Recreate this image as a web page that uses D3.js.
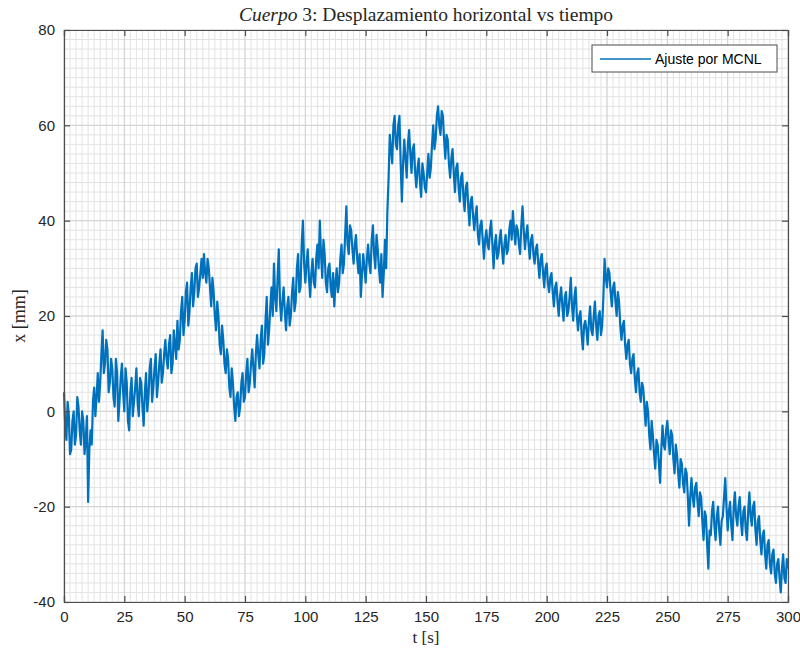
<!DOCTYPE html>
<html>
<head>
<meta charset="utf-8">
<script src="https://cdn.jsdelivr.net/npm/d3@7/dist/d3.min.js"></script>
<style>
  html, body { margin: 0; padding: 0; background: #fff; }
  svg { display: block; }
</style>
</head>
<body>
<svg id="chart" width="800" height="649"></svg>
<script>
// ---- data ----
// samples at whole seconds t = 0..300
const xValues = [
  4, -6, -1, -8, 0, -5, 1, -7, -2, -6,
  -19, -4, 2, -1, 8, 6, 17, 10, 13, 6,
  9, 1, 8, 2, 10, 0, 6, -4, 7, 2,
  9, -1, 6, -3, 8, 3, 11, 5, 12, 6,
  13, 8, 15, 9, 16, 10, 14, 19, 15, 24,
  19, 27, 21, 29, 25, 31, 26, 32, 33, 27,
  30, 22, 25, 17, 20, 12, 15, 8, 11, 3,
  6, -2, 4, 1, 8, 3, 11, 6, 13, 5,
  16, 9, 18, 12, 24, 17, 26, 31, 21, 34,
  19, 26, 17, 24, 20, 28, 23, 33, 26, 40,
  27, 34, 24, 32, 26, 35, 40, 28, 33, 25,
  31, 24, 22, 30, 27, 35, 31, 43, 33, 38,
  31, 37, 29, 24, 33, 27, 35, 29, 39, 30,
  34, 27, 24, 36, 42, 58, 52, 62, 55, 62,
  44, 57, 49, 59, 50, 56, 47, 53, 45, 50,
  46, 54, 51, 60, 57, 64, 58, 62, 53, 57,
  49, 55, 46, 52, 44, 50, 42, 48, 39, 45,
  38, 43, 35, 40, 32, 38, 34, 40, 30, 37,
  33, 38, 31, 37, 34, 40, 42, 35, 38, 33,
  43, 34, 39, 32, 37, 31, 35, 28, 33, 26,
  31, 25, 29, 22, 27, 20, 26, 19, 25, 21,
  28, 19, 26, 17, 21, 13, 19, 14, 22, 16,
  23, 15, 21, 18, 32, 26, 29, 22, 27, 20,
  23, 15, 19, 11, 15, 8, 12, 4, 9, 2,
  5, -3, 0, -8, -5, -12, -7, -15, -3, -8,
  -2, -9, -5, -13, -9, -16, -11, -17, -13, -24,
  -14, -20, -15, -22, -18, -27, -22, -33, -26, -19,
  -27, -20, -28, -22, -14, -25, -19, -27, -17, -24,
  -18, -26, -20, -27, -17, -24, -19, -28, -22, -30,
  -25, -33, -27, -34, -29, -36, -31, -38, -30, -36, -33
];
// samples at half seconds t = 0.5..299.5
const xMidValues = [
  -3, 2, -9, -2, -7, 3, -4, 0, -9, -1,
  -8, -7, 5, 3, 2, 12, 8, 15, 4, 11,
  3, 11, -2, 7, 4, 9, -2, 4, -1, 5,
  2, 7, 1, 4, 0, 9, 2, 9, 3, 10,
  6, 12, 11, 14, 8, 17, 11, 13, 21, 16,
  25, 18, 26, 22, 30, 24, 29, 28, 29, 32,
  26, 28, 20, 23, 14, 18, 10, 13, 5, 9,
  1, 3, -1, 6, 2, 8, 4, 10, 9, 12,
  12, 15, 10, 19, 14, 22, 20, 24, 28, 23,
  23, 21, 22, 18, 25, 21, 30, 25, 35, 31,
  31, 28, 29, 27, 32, 30, 33, 36, 27, 30,
  26, 29, 27, 25, 32, 29, 37, 35, 39, 34,
  35, 32, 33, 29, 30, 32, 31, 36, 33, 37,
  30, 33, 29, 30, 49, 55, 60, 56, 60, 52,
  52, 53, 56, 54, 55, 50, 51, 48, 52, 47,
  50, 49, 56, 55, 62, 60, 63, 57, 58, 52,
  53, 50, 51, 47, 49, 45, 47, 43, 44, 41,
  41, 37, 39, 36, 36, 35, 38, 35, 35, 32,
  36, 34, 35, 33, 38, 36, 38, 39, 35, 39,
  38, 37, 35, 36, 33, 34, 31, 32, 29, 30,
  27, 28, 25, 26, 23, 24, 22, 24, 20, 24,
  22, 24, 20, 20, 16, 18, 17, 19, 17, 20,
  18, 20, 16, 24, 28, 30, 25, 26, 23, 25,
  18, 18, 14, 14, 10, 11, 7, 8, 4, 6,
  1, 2, -5, -2, -9, -6, -11, -8, -7, -4,
  -6, -4, -10, -7, -13, -10, -15, -12, -18, -18,
  -18, -16, -19, -17, -23, -21, -28, -25, -21, -24,
  -22, -25, -23, -18, -20, -21, -24, -20, -22, -20,
  -23, -21, -25, -21, -22, -20, -25, -23, -27, -26,
  -30, -28, -32, -30, -34, -32, -35, -33, -35, -31
];
const xTicks = [0, 25, 50, 75, 100, 125, 150, 175, 200, 225, 250, 275, 300];
const yTicks = [-40, -20, 0, 20, 40, 60, 80];
const seriesName = "Ajuste por MCNL";

// ---- layout ----
const svg = d3.select("#chart");
const L = 64, R = 788, T = 30, B = 602;
const x = d3.scaleLinear().domain([0, 300]).range([L, R]);
const y = d3.scaleLinear().domain([-40, 80]).range([B, T]);
const axisColor = "#4d4d4d";
const textColor = "#262626";

// grid: minor
const g = svg.append("g");
g.selectAll("line.vx").data(d3.range(0, 300.01, 2.5)).join("line")
  .attr("x1", d => x(d)).attr("x2", d => x(d)).attr("y1", T).attr("y2", B)
  .attr("stroke", "#e3e3e3").attr("stroke-width", 1);
g.selectAll("line.hy").data(d3.range(-40, 80.01, 2)).join("line")
  .attr("y1", d => y(d)).attr("y2", d => y(d)).attr("x1", L).attr("x2", R)
  .attr("stroke", "#e3e3e3").attr("stroke-width", 1);
// grid: major
g.selectAll("line.mx").data(xTicks).join("line")
  .attr("x1", d => x(d)).attr("x2", d => x(d)).attr("y1", T).attr("y2", B)
  .attr("stroke", "#d2d2d2").attr("stroke-width", 1);
g.selectAll("line.my").data(yTicks).join("line")
  .attr("y1", d => y(d)).attr("y2", d => y(d)).attr("x1", L).attr("x2", R)
  .attr("stroke", "#d2d2d2").attr("stroke-width", 1);

// data line
const data = [];
for (let i = 0; i < xValues.length; i++) {
  data.push([i, xValues[i]]);
  if (i < xMidValues.length) data.push([i + 0.5, xMidValues[i]]);
}
svg.append("path")
  .datum(data)
  .attr("fill", "none")
  .attr("stroke", "#0072BD")
  .attr("stroke-width", 2.2)
  .attr("stroke-linejoin", "round")
  .attr("d", d3.line().x(d => x(d[0])).y(d => y(d[1])));

// axes
const fontSans = "'Liberation Sans', Arial, sans-serif";
const fmt = d => String(d);
const xAxis = d3.axisBottom(x).tickValues(xTicks).tickSize(-6).tickPadding(9).tickFormat(fmt);
const xAxisTop = d3.axisTop(x).tickValues(xTicks).tickSize(-6).tickFormat("");
const yAxis = d3.axisLeft(y).tickValues(yTicks).tickSize(-6).tickPadding(9).tickFormat(fmt);
const yAxisRight = d3.axisRight(y).tickValues(yTicks).tickSize(-6).tickFormat("");

function style(sel) {
  sel.select(".domain").attr("stroke", axisColor).attr("stroke-width", 1.2);
  sel.selectAll(".tick line").attr("stroke", axisColor).attr("stroke-width", 1.2);
  sel.selectAll(".tick text").attr("fill", textColor).style("font-family", fontSans).style("font-size", "15px");
}
svg.append("g").attr("transform", `translate(0,${B})`).call(xAxis).call(style);
svg.append("g").attr("transform", `translate(0,${T})`).call(xAxisTop).call(style);
svg.append("g").attr("transform", `translate(${L},0)`).call(yAxis).call(style);
svg.append("g").attr("transform", `translate(${R},0)`).call(yAxisRight).call(style);

// title
const fontSerif = "'Liberation Serif', 'DejaVu Serif', serif";
const title = svg.append("text").attr("x", (L + R) / 2).attr("y", 21)
  .attr("text-anchor", "middle").attr("fill", textColor)
  .style("font-family", fontSerif).style("font-size", "19.5px");
title.append("tspan").style("font-style", "italic").text("Cuerpo");
title.append("tspan").text(" 3: Desplazamiento horizontal vs tiempo");

// axis labels
svg.append("text").attr("x", (L + R) / 2).attr("y", 643)
  .attr("text-anchor", "middle").attr("fill", textColor)
  .style("font-family", fontSerif).style("font-size", "17px").text("t [s]");
svg.append("text").attr("transform", `translate(25,${(T + B) / 2}) rotate(-90)`)
  .attr("text-anchor", "middle").attr("fill", textColor)
  .style("font-family", fontSerif).style("font-size", "18px").text("x [mm]");

// legend
const lg = svg.append("g");
lg.append("rect").attr("x", 592).attr("y", 45).attr("width", 185).attr("height", 27)
  .attr("fill", "#fff").attr("stroke", axisColor).attr("stroke-width", 1);
lg.append("line").attr("x1", 600).attr("x2", 651).attr("y1", 59).attr("y2", 59)
  .attr("stroke", "#0072BD").attr("stroke-width", 1.3);
lg.append("text").attr("x", 655).attr("y", 64).attr("fill", "#000")
  .style("font-family", fontSans).style("font-size", "14px").text(seriesName);
</script>
</body>
</html>
